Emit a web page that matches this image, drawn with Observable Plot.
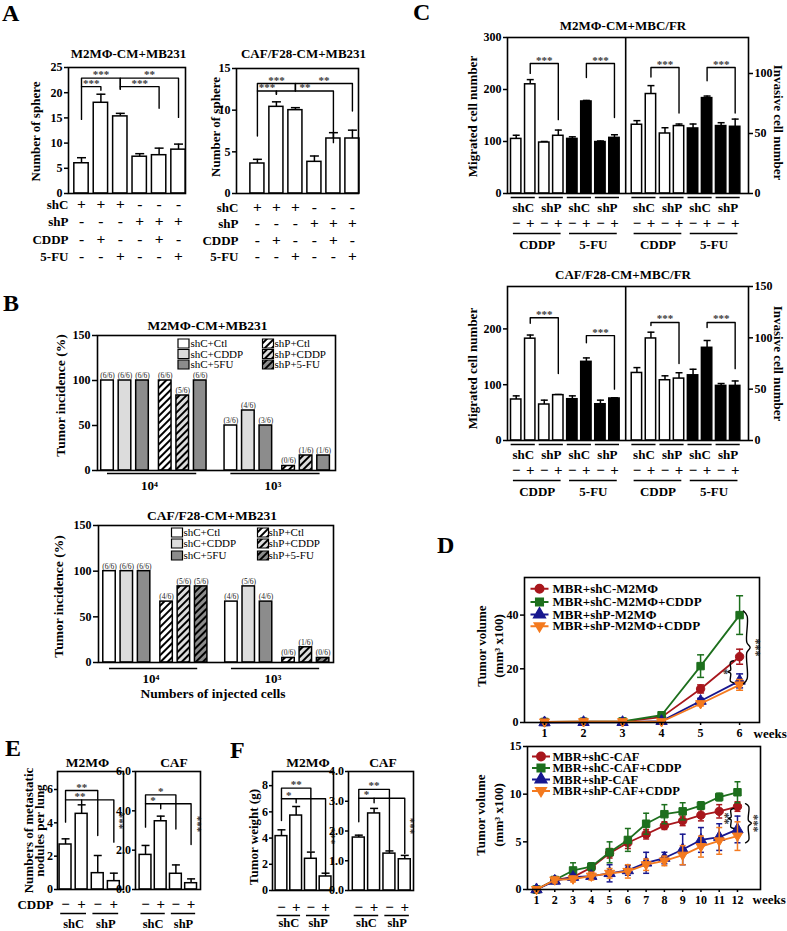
<!DOCTYPE html>
<html>
<head>
<meta charset="utf-8">
<script src="https://cdn.jsdelivr.net/npm/d3@7"></script>
<script src="https://cdn.jsdelivr.net/npm/@observablehq/plot@0.6"></script>
<style>
  html,body{margin:0;padding:0;background:#fff;}
  #root{position:relative;width:787px;height:931px;overflow:hidden;background:#fff;font-family:'Liberation Serif','Times New Roman',Times,serif;}
  .pl{position:absolute;font-weight:bold;font-size:24px;line-height:24px;color:#000;}
</style>
</head>
<body>
<svg width="0" height="0" style="position:absolute;left:0;top:0" aria-hidden="true">
  <defs>
    <pattern id="hatchW" patternUnits="userSpaceOnUse" width="5" height="5" patternTransform="rotate(45)">
      <rect width="5" height="5" fill="#ffffff"/><rect width="2" height="5" fill="#000000"/>
    </pattern>
    <pattern id="hatchL" patternUnits="userSpaceOnUse" width="5" height="5" patternTransform="rotate(45)">
      <rect width="5" height="5" fill="#dcdcdc"/><rect width="2" height="5" fill="#000000"/>
    </pattern>
    <pattern id="hatchG" patternUnits="userSpaceOnUse" width="5" height="5" patternTransform="rotate(45)">
      <rect width="5" height="5" fill="#8c8c8c"/><rect width="2" height="5" fill="#000000"/>
    </pattern>
  </defs>
</svg>
<div id="root">
  <div class="pl" style="left:2px;top:1px">A</div>
  <div class="pl" style="left:3px;top:291px">B</div>
  <div class="pl" style="left:413px;top:0px">C</div>
  <div class="pl" style="left:437px;top:533px">D</div>
  <div class="pl" style="left:5px;top:736px">E</div>
  <div class="pl" style="left:230px;top:738px">F</div>
</div>
<script>
// ================= DATA =================
// ---- Panel A: sphere formation ----
const aRowLabels = ["shC", "shP", "CDDP", "5-FU"];
const aShC  = ["+", "+", "+", "-", "-", "-"];
const aShP  = ["-", "-", "-", "+", "+", "+"];
const aCDDP = ["-", "+", "-", "-", "+", "-"];
const a5FU  = ["-", "-", "+", "-", "-", "+"];
const aM2Sphere    = [6.0, 18.0, 15.3, 7.3, 7.6, 8.7];
const aM2SphereErr = [1.1, 1.7, 0.6, 0.6, 1.4, 1.1];
const aCafSphere    = [3.6, 10.4, 10.0, 3.8, 6.6, 6.6];
const aCafSphereErr = [0.5, 0.6, 0.3, 0.7, 0.7, 1.0];
const aM2Sig = [
  {a: 0, b: 2, h: 22.9, la: 14.7, lb: 20.7, s: "***"},
  {a: 2, b: 5, h: 22.9, la: 20.7, lb: 15.1, s: "**"},
  {a: 0, b: 1, h: 21.2, la: 21.2, lb: 20.5, s: "***"},
  {a: 2, b: 4, h: 21.2, la: 21.2, lb: 16.9, s: "***"}
];
const aCafSig = [
  {a: 0, b: 2, h: 13.2, la: 6.9, lb: 12.3, s: "***"},
  {a: 2, b: 5, h: 13.2, la: 12.3, lb: 9.9, s: "**"},
  {a: 0, b: 1, h: 12.3, la: 12.3, lb: 11.9, s: "***"},
  {a: 1, b: 4, h: 12.3, la: 11.9, lb: 6.1, s: "**"}
];

// ---- Panel B: tumor incidence ----
const bSeries = ["shC+Ctl", "shC+CDDP", "shC+5FU", "shP+Ctl", "shP+CDDP", "shP+5-FU"];
const bGroups = ["10⁴", "10³"];
const bMice = 6;
const bM2Tumors  = [[6, 6, 6, 6, 5, 6], [3, 4, 3, 0, 1, 1]];
const bCafTumors = [[6, 6, 6, 4, 5, 5], [4, 5, 4, 0, 1, 0]];

// ---- Panel C: migration / invasion ----
const cPairLabels = ["shC", "shP", "shC", "shP"];
const cDose = ["−", "+", "−", "+", "−", "+", "−", "+"];
const cDrugs = ["CDDP", "5-FU"];
const cM2Migrated    = [105, 210, 98, 111, 105, 177, 99, 107];
const cM2MigratedErr = [7, 9, 2, 11, 4, 2, 2, 6];
const cM2Invasive    = [57.3, 82.9, 50.0, 56.2, 54.2, 79.5, 56.2, 55.6];
const cM2InvasiveErr = [3.4, 7.0, 4.8, 1.7, 3.7, 1.7, 2.8, 6.4];
const cCafMigrated    = [73.5, 182.5, 64.5, 81.3, 74, 141, 65, 75.3];
const cCafMigratedErr = [6.5, 6.5, 7.8, 1.2, 6, 7, 7.3, 1.2];
const cCafInvasive    = [65.8, 99.4, 58.7, 60.3, 63.5, 90.3, 53.2, 53.2];
const cCafInvasiveErr = [5.2, 6.1, 4.3, 5.7, 5.9, 7.1, 2.3, 4.8];
const cM2SigMig = [{a: 1, b: 3, h: 250, la: 231, lb: 142, s: "***"}, {a: 5, b: 7, h: 250, la: 223, lb: 146, s: "***"}];
const cM2SigInv = [{a: 9, b: 11, h: 105, la: 97, lb: 67, s: "***"}, {a: 13, b: 15, h: 105, la: 94, lb: 67, s: "***"}];
const cCafSigMig = [{a: 1, b: 3, h: 220, la: 210, lb: 120, s: "***"}, {a: 5, b: 7, h: 188, la: 175, lb: 92, s: "***"}];
const cCafSigInv = [{a: 9, b: 11, h: 115, la: 112, lb: 75, s: "***"}, {a: 13, b: 15, h: 115, la: 110, lb: 70, s: "***"}];

// ---- Panel D: tumor growth ----
const dTopWeeks = [1, 2, 3, 4, 5, 6];
const dTopNames = ["MBR+shC-M2MΦ", "MBR+shC-M2MΦ+CDDP", "MBR+shP-M2MΦ", "MBR+shP-M2MΦ+CDDP"];
const dTopShC        = [0.2, 0.3, 0.3, 2.0, 12.5, 24.5];
const dTopShCErr     = [0.1, 0.2, 0.2, 0.4, 1.5, 2.8];
const dTopShCCddp    = [0.2, 0.3, 0.4, 2.7, 21.0, 40.0];
const dTopShCCddpErr = [0.1, 0.2, 0.2, 0.5, 4.2, 7.2];
const dTopShP        = [0.0, 0.1, 0.1, 0.5, 8.0, 15.5];
const dTopShPErr     = [0.05, 0.1, 0.1, 0.2, 1.0, 2.6];
const dTopShPCddp    = [0.2, 0.3, 0.3, 0.3, 7.0, 14.0];
const dTopShPCddpErr = [0.1, 0.1, 0.1, 0.2, 0.8, 2.0];
const dBotWeeks = [1, 2, 3, 4, 5, 6, 7, 8, 9, 10, 11, 12];
const dBotNames = ["MBR+shC-CAF", "MBR+shC-CAF+CDDP", "MBR+shP-CAF", "MBR+shP-CAF+CDDP"];
const dBotShC        = [0, 1.0, 1.3, 2.3, 3.8, 4.9, 5.8, 6.7, 7.2, 7.8, 8.2, 8.7];
const dBotShCErr     = [0, 0.2, 0.3, 0.4, 0.5, 0.6, 0.5, 0.4, 0.5, 0.6, 0.7, 0.5];
const dBotShCCddp    = [0, 1.0, 2.0, 2.4, 3.9, 5.2, 6.9, 7.9, 8.2, 8.8, 9.7, 10.2];
const dBotShCCddpErr = [0, 0.2, 0.8, 0.4, 1.1, 1.2, 1.1, 1.0, 0.9, 0.4, 0.4, 1.1];
const dBotShP        = [0, 0.9, 1.3, 1.4, 1.7, 2.0, 2.8, 3.3, 4.2, 5.2, 5.5, 6.3];
const dBotShPErr     = [0, 0.2, 0.3, 0.3, 0.9, 0.5, 1.1, 0.6, 1.6, 1.3, 1.4, 1.4];
const dBotShPCddp    = [0, 1.0, 1.1, 1.4, 1.7, 1.9, 2.6, 3.0, 3.6, 4.5, 5.1, 5.6];
const dBotShPCddpErr = [0, 0.3, 0.3, 0.4, 0.5, 0.7, 0.6, 0.5, 1.0, 1.1, 1.4, 1.5];
const dTopBrace = [{x: 6.1, top: 41.5, bot: 14.4, w: 0.17, s: "***", lx: 6.42}, {x: 5.84, top: 23, bot: 14.8, w: -0.14, s: "*", lx: 5.6}];
const dBotBrace = [{x: 12.44, top: 9.0, bot: 4.9, w: 0.32, s: "***", lx: 12.88}, {x: 11.8, top: 8.5, bot: 6.4, w: -0.3, s: "**", lx: 11.32}];

// ---- Panels E / F ----
const efDose = ["−", "+", "−", "+"];
const efPairs = ["shC", "shP"];
const eM2Nodules    = [2.7, 4.54, 0.98, 0.5];
const eM2NodulesErr = [0.34, 0.54, 1.06, 0.48];
const eCafNodules    = [1.76, 3.47, 0.8, 0.32];
const eCafNodulesErr = [0.48, 0.26, 0.45, 0.22];
const fM2Weight    = [4.15, 5.72, 2.42, 1.07];
const fM2WeightErr = [0.48, 0.69, 0.51, 0.25];
const fCafWeight    = [1.78, 2.59, 1.24, 1.05];
const fCafWeightErr = [0.08, 0.17, 0.09, 0.13];
const eM2Sig = [{a: 0, b: 2, h: 5.94, la: 4.04, lb: 3.24, s: "**"}, {a: 0, b: 1, h: 5.38, la: 5.38, lb: 5.15, s: "**", lx: 0.9}, {a: 1, b: 3, h: 5.38, la: 5.38, lb: 2.84, s: "***", rot: true}];
const eCafSig = [{a: 0, b: 2, h: 4.81, la: 3.17, lb: 3.08, s: "*"}, {a: 0, b: 1, h: 4.36, la: 4.36, lb: 4.1, s: "*"}, {a: 1, b: 3, h: 4.36, la: 4.36, lb: 2.29, s: "***", rot: true}];
const fM2Sig = [{a: 0, b: 2, h: 7.81, la: 5.34, lb: 3.05, s: "**"}, {a: 0, b: 1, h: 7.0, la: 7.0, lb: 6.7, s: "*"}, {a: 1, b: 3, h: 7.0, la: 7.0, lb: 1.27, s: "***", rot: true}];
const fCafSig = [{a: 0, b: 2, h: 3.40, la: 2.31, lb: 1.35, s: "**"}, {a: 0, b: 1, h: 3.1, la: 3.1, lb: 2.95, s: "*"}, {a: 1, b: 3, h: 3.1, la: 3.1, lb: 1.24, s: "***", rot: true}];

// ================= HELPERS =================
const FONT = "'Liberation Serif','Times New Roman',Times,serif";
const root = document.getElementById("root");
const capSym = {draw(ctx, size) { const r = Math.sqrt(size / Math.PI); ctx.moveTo(-r, 0); ctx.lineTo(r, 0); }};
const rectSym = {draw(ctx) { ctx.rect(-5.5, -4.5, 11, 9); }};
const triDown = {draw(ctx, size) { const r = Math.sqrt(size / Math.PI) * 1.2; ctx.moveTo(-r, -r * 0.6); ctx.lineTo(r, -r * 0.6); ctx.lineTo(0, r * 1.05); ctx.closePath(); }};
const withLine = sym => ({draw(ctx, size) { ctx.moveTo(-9, 0); ctx.lineTo(9, 0); sym.draw(ctx, size); }});
// a text anchored on the frame, centred on its point
const label = (t, o) => Plot.text([t], {textAnchor: "middle", lineAnchor: "middle", text: d => d, ...o});

function chart(box, xDomain, yDomain, marks) {
  const [x0, y0, x1, y1] = box;
  const svg = Plot.plot({
    width: x1 - x0, height: y1 - y0, margin: 0,
    x: {domain: xDomain, axis: null},
    y: {domain: yDomain, axis: null},
    color: {type: "identity"},
    style: {fontFamily: FONT, fontSize: "12px", fontWeight: "bold", background: "transparent", overflow: "visible", color: "black"},
    marks
  });
  svg.style.position = "absolute";
  svg.style.left = x0 + "px";
  svg.style.top = y0 + "px";
  root.append(svg);
  return svg;
}

function bars(xs, vals, errs, {hw = 0.37, fill = () => "white", capR = 4, sw = 1.5} = {}) {
  const d = vals.map((v, i) => ({x: xs[i], v, e: errs[i], f: fill(i)}));
  return [
    Plot.ruleX(d, {x: "x", y1: "v", y2: q => q.v + q.e, stroke: "black", strokeWidth: sw}),
    Plot.dot(d, {x: "x", y: q => q.v + q.e, symbol: capSym, r: capR, stroke: "black", strokeWidth: sw, fill: "none"}),
    Plot.rect(d, {x1: q => q.x - hw, x2: q => q.x + hw, y1: 0, y2: "v", fill: "f", stroke: "black", strokeWidth: sw})
  ];
}

function brackets(list, xpos, yconv = v => v) {
  const pts = list.flatMap((b, k) => [
    {k, x: xpos(b.a), y: yconv(b.la)},
    {k, x: xpos(b.a), y: yconv(b.h)},
    {k, x: xpos(b.b), y: yconv(b.h)},
    {k, x: xpos(b.b), y: yconv(b.lb)}
  ]);
  const flat = list.filter(b => !b.rot), rot = list.filter(b => b.rot);
  return [
    Plot.line(pts, {x: "x", y: "y", z: "k", stroke: "black", strokeWidth: 1.4}),
    Plot.text(flat, {x: b => b.lx ?? (xpos(b.a) + xpos(b.b)) / 2, y: b => yconv(b.h), dy: -3.5, text: "s", fontSize: 11, fill: "#3a3a3a"}),
    Plot.text(rot, {x: b => xpos(b.b), y: b => yconv((b.h + b.lb) / 2), dx: 6, rotate: 90, text: "s", fontSize: 11, fill: "#3a3a3a"})
  ];
}

const frame = () => Plot.frame({stroke: "black", strokeWidth: 1.6});
const yAxis = (ticks, o = {}) => Plot.axisY({ticks, tickSize: 4, tickPadding: 2, label: null, fontSize: 12, strokeWidth: 1.5, ...o});

// ================= PANEL A =================
function sphereChart(box, xDomain, yMax, yTicks, vals, errs, sig, title, o) {
  const xs = vals.map((_, i) => i);
  const rows = [aShC, aShP, aCDDP, a5FU];
  chart(box, xDomain, [0, yMax], [
    ...bars(xs, vals, errs, {hw: 0.37, capR: 4.5}),
    ...brackets(sig, i => i),
    frame(),
    yAxis(yTicks),
    label(title, {frameAnchor: "top", dx: o.tdx, dy: o.tdy, fontSize: 13}),
    label("Number of sphere", {frameAnchor: "left", rotate: -90, dx: o.ldx, dy: o.ldy, fontSize: 13}),
    ...aRowLabels.flatMap((lab, k) => [
      label(lab, {frameAnchor: "bottom-left", dx: o.rdx, dy: o.rowDy[k], textAnchor: "end", fontSize: 13}),
      Plot.text(rows[k], {x: (d, i) => i, y: 0, dy: o.rowDy[k], text: d => d, fontSize: 15.5})
    ])
  ]);
}
sphereChart([68, 67, 185, 193], [-0.67, 5.36], 25, [0, 5, 10, 15, 20, 25], aM2Sphere, aM2SphereErr, aM2Sig, "M2MΦ-CM+MB231",
  {tdx: 1.5, tdy: -14, ldx: -33, ldy: 1, rdx: 0, rowDy: [11, 28, 46, 63]});
sphereChart([236, 68, 358, 193], [-1.1, 5.32], 15, [0, 5, 10, 15], aCafSphere, aCafSphereErr, aCafSig, "CAF/F28-CM+MB231",
  {tdx: 6, tdy: -15, ldx: -21, ldy: -4, rdx: 2, rowDy: [14, 30, 47, 63]});

// ================= PANEL B =================
const bOffsets = [0, 1, 2, 3.3, 4.3, 5.3];
const bGroupBase = [0, 7.05];
function incidenceChart(box, xDomain, counts, fills, legendFills, title, o) {
  const data = counts.flatMap((grp, g) => grp.map((c, s) => ({
    x: bGroupBase[g] + bOffsets[s], pct: c / bMice * 100, lab: `(${c}/${bMice})`, f: fills[s]
  })));
  const groups = bGroups.map((name, g) => ({name, x1: bGroupBase[g], x2: bGroupBase[g] + 5.1, xc: bGroupBase[g] + 2.4}));
  const legend = bSeries.flatMap((name, s) => {
    const col = Math.floor(s / 3), row = s % 3;
    return [
      Plot.dot([name], {frameAnchor: "top-left", dx: o.legSw[col], dy: o.legRow[row], symbol: rectSym, fill: legendFills[s], stroke: "black", strokeWidth: 1.2, r: 5}),
      label(name, {frameAnchor: "top-left", dx: o.legTx[col], dy: o.legRow[row], textAnchor: "start", fontSize: 11, fontWeight: "normal"})
    ];
  });
  const marks = [
    Plot.rect(data, {x1: d => d.x - 0.36, x2: d => d.x + 0.36, y1: 0, y2: d => Math.max(d.pct, 5), fill: "f", stroke: "black", strokeWidth: 1.5}),
    Plot.text(data, {x: "x", y: d => Math.max(d.pct, 5), dy: -5, text: "lab", fontSize: 7.5, fontWeight: "normal", fill: "#222"}),
    frame(),
    yAxis([0, 50, 100, 150], {tickSize: 5}),
    Plot.ruleY(groups, {y: 0, x1: "x1", x2: "x2", dy: o.uDy, stroke: "black", strokeWidth: 1.6}),
    Plot.text(groups, {x: "xc", y: 0, dy: o.gDy, text: "name", fontSize: 13}),
    label(title, {frameAnchor: "top", dx: o.tdx, dy: -10, fontSize: 13.5}),
    label("Tumor incidence (%)", {frameAnchor: "left", rotate: -90, dx: o.ldx, dy: o.ldy, fontSize: 13.5}),
    ...legend
  ];
  if (o.xTitle) marks.push(label(o.xTitle, {frameAnchor: "bottom", dx: -3, dy: 31, fontSize: 13.5}));
  chart(box, xDomain, [0, 150], marks);
}
incidenceChart([97, 335, 335, 470], [-0.571, 13.03], bM2Tumors,
  ["white", "#dcdcdc", "#8c8c8c", "url(#hatchW)", "url(#hatchL)", "#8c8c8c"],
  ["white", "#dcdcdc", "#8c8c8c", "url(#hatchW)", "url(#hatchL)", "url(#hatchG)"],
  "M2MΦ-CM+MB231",
  {legSw: [86, 170.5], legTx: [93, 177], legRow: [8, 18.5, 29], uDy: 3, gDy: 15, tdx: -9, ldx: -37, ldy: -7.5});
incidenceChart([98, 525, 333, 662], [-0.636, 12.95], bCafTumors,
  ["white", "#dcdcdc", "#8c8c8c", "url(#hatchW)", "url(#hatchL)", "url(#hatchG)"],
  ["white", "#dcdcdc", "#8c8c8c", "url(#hatchW)", "url(#hatchL)", "url(#hatchG)"],
  "CAF/F28-CM+MB231",
  {legSw: [78.5, 164.5], legTx: [85, 170], legRow: [7, 18, 30], uDy: 6, gDy: 16, tdx: -4, ldx: -40, ldy: 2.5, xTitle: "Numbers of injected cells"});

// ================= PANEL C =================
function migrationChart(box, yMax, rightMax, leftTicks, rightTicks, migr, migrErr, inv, invErr, sigMig, sigInv, title, o) {
  const k = yMax / rightMax;
  const xs = d3.range(16).map(i => i < 8 ? i : i + 0.6);
  const pairs = d3.range(8).map(p => ({x1: xs[2 * p] - 0.36, x2: xs[2 * p + 1] + 0.36, xc: (xs[2 * p] + xs[2 * p + 1]) / 2, lab: cPairLabels[p % 4]}));
  const quads = d3.range(4).map(q => ({x1: xs[4 * q] - 0.2, x2: xs[4 * q + 3] + 0.2, xc: (xs[4 * q] + xs[4 * q + 3]) / 2, lab: cDrugs[q % 2]}));
  chart(box, [-0.62, 16.55], [0, yMax], [
    ...bars(xs, [...migr, ...inv.map(v => v * k)], [...migrErr, ...invErr.map(e => e * k)], {hw: 0.37, capR: 3.5, fill: i => (i % 8) < 4 ? "white" : "black"}),
    ...brackets(sigMig, i => xs[i]),
    ...brackets(sigInv, i => xs[i], v => v * k),
    Plot.ruleX([(xs[7] + xs[8]) / 2], {stroke: "black", strokeWidth: 1.6}),
    frame(),
    yAxis(leftTicks),
    yAxis(rightTicks.map(v => v * k), {anchor: "right", tickFormat: v => Math.round(v / k)}),
    Plot.ruleY(pairs, {y: 0, x1: "x1", x2: "x2", dy: 4, stroke: "black", strokeWidth: 1.5}),
    Plot.text(pairs, {x: "xc", y: 0, dy: 14, text: "lab", fontSize: 13}),
    Plot.text(xs, {x: d => d, y: 0, dy: 30, text: (d, i) => cDose[i % 8], fontSize: 15}),
    Plot.ruleY(quads, {y: 0, x1: "x1", x2: "x2", dy: 40, stroke: "black", strokeWidth: 1.5}),
    Plot.text(quads, {x: "xc", y: 0, dy: 51, text: "lab", fontSize: 13}),
    label(title, {frameAnchor: "top", dx: -5, dy: -12, fontSize: 13}),
    label("Migrated cell number", {frameAnchor: "left", rotate: -90, dx: -35, dy: o.ldy, fontSize: 13}),
    label("Invasive cell number", {frameAnchor: "right", rotate: 90, dx: 30, dy: o.rdy, fontSize: 13})
  ]);
}
migrationChart([507, 37, 748, 193], 300, 130, [0, 100, 200, 300], [0, 50, 100],
  cM2Migrated, cM2MigratedErr, cM2Invasive, cM2InvasiveErr, cM2SigMig, cM2SigInv, "M2MΦ-CM+MBC/FR", {ldy: 1, rdy: 7});
migrationChart([507, 286, 748, 440], 276, 150, [0, 100, 200], [0, 50, 100, 150],
  cCafMigrated, cCafMigratedErr, cCafInvasive, cCafInvasiveErr, cCafSigMig, cCafSigInv, "CAF/F28-CM+MBC/FR", {ldy: 5, rdy: 0});

// ================= PANEL D =================
const dColors = ["#a8161c", "#1d6f1d", "#17178f", "#f47a1f"];
const dSymbols = [d3.symbolCircle, d3.symbolSquare, d3.symbolTriangle, triDown];
function braceMarks(list) {
  const pts = list.flatMap((b, k) => {
    const m = (b.top + b.bot) / 2, t = (b.top - b.bot) * 0.07;
    return [[b.x, b.top], [b.x + b.w * 0.55, b.top - t], [b.x + b.w * 0.5, m + t], [b.x + b.w, m], [b.x + b.w * 0.5, m - t], [b.x + b.w * 0.55, b.bot + t], [b.x, b.bot]]
      .map(([x, y]) => ({k, x, y}));
  });
  return [
    Plot.line(pts, {x: "x", y: "y", z: "k", curve: "catmull-rom", stroke: "black", strokeWidth: 1.4}),
    Plot.text(list, {x: "lx", y: b => (b.top + b.bot) / 2, rotate: 90, text: "s", fontSize: 12, fill: "#3a3a3a"})
  ];
}
function growthChart(box, xDomain, yMax, yTicks, weeks, names, means, errs, braces, o) {
  const series = names.map((name, k) => ({name, mean: means[k], err: errs[k], color: dColors[k], symbol: dSymbols[k]}));
  const dataMarks = series.flatMap(s => {
    const d = weeks.map((w, i) => ({w, v: s.mean[i], e: s.err[i]}));
    return [
      Plot.ruleX(d, {x: "w", y1: q => q.v - q.e, y2: q => q.v + q.e, stroke: s.color, strokeWidth: 1.5}),
      Plot.dot(d, {x: "w", y: q => q.v + q.e, symbol: capSym, r: o.capR, stroke: s.color, strokeWidth: 1.5, fill: "none"}),
      Plot.dot(d, {x: "w", y: q => q.v - q.e, symbol: capSym, r: o.capR, stroke: s.color, strokeWidth: 1.5, fill: "none"}),
      Plot.line(d, {x: "w", y: "v", stroke: s.color, strokeWidth: 1.8}),
      Plot.dot(d, {x: "w", y: "v", symbol: s.symbol, fill: s.color, stroke: s.color, strokeWidth: 1, r: 4.2})
    ];
  });
  const legend = series.flatMap((s, k) => [
    Plot.dot([s.name], {frameAnchor: "top-left", dx: o.legDx, dy: o.legDy[k], symbol: withLine(s.symbol), fill: s.color, stroke: s.color, strokeWidth: 2, r: 4}),
    label(s.name, {frameAnchor: "top-left", dx: o.legTx, dy: o.legDy[k], textAnchor: "start", fontSize: o.legFont})
  ]);
  chart(box, xDomain, [0, yMax], [
    ...dataMarks,
    ...braceMarks(braces),
    frame(),
    yAxis(yTicks),
    Plot.axisX({ticks: weeks, tickSize: 3, tickPadding: 3, label: null, fontSize: 12, strokeWidth: 1.5, tickFormat: d => d}),
    label("weeks", {frameAnchor: "bottom-right", dx: o.wdx, dy: o.wdy, textAnchor: "start", fontSize: 13}),
    label("Tumor volume\n(mm³ x100)", {frameAnchor: "left", rotate: -90, dx: o.ldx, dy: o.ldy, lineHeight: 1.35, fontSize: 13}),
    ...legend
  ]);
}
growthChart([524, 577, 759, 722], [0.487, 6.51], 54, [0, 20, 40], dTopWeeks, dTopNames,
  [dTopShC, dTopShCCddp, dTopShP, dTopShPCddp], [dTopShCErr, dTopShCCddpErr, dTopShPErr, dTopShPCddpErr], dTopBrace,
  {capR: 3.5, legDx: 15, legTx: 28, legDy: [11.3, 24.5, 37, 48.7], legFont: 13, wdx: -6, wdy: 11, ldx: -35.5, ldy: -4});
growthChart([527, 746, 760, 889], [0.507, 13.26], 15, [0, 5, 10, 15], dBotWeeks, dBotNames,
  [dBotShC, dBotShCCddp, dBotShP, dBotShPCddp], [dBotShCErr, dBotShCCddpErr, dBotShPErr, dBotShPCddpErr], dBotBrace,
  {capR: 3, legDx: 13.5, legTx: 25, legDy: [10, 21.5, 33, 44.5], legFont: 12.5, wdx: -8, wdy: 10, ldx: -39, ldy: -3});

// ================= PANELS E / F =================
function smallChart(box, xDomain, yMax, yTicks, vals, errs, sig, title, o) {
  const xs = vals.map((_, i) => i);
  const pairs = efPairs.map((lab, p) => ({lab, x1: 2 * p - 0.3, x2: 2 * p + 1.3, xc: 2 * p + 0.5}));
  chart(box, xDomain, [0, yMax], [
    ...bars(xs, vals, errs, {hw: o.hw, capR: 4}),
    ...brackets(sig, i => i),
    frame(),
    yAxis(yTicks, {tickSize: 3, tickPadding: 1.5}),
    label(title, {frameAnchor: "top", dx: o.tdx, dy: -9, fontSize: 13.5}),
    Plot.text(efDose, {x: (d, i) => i, y: 0, dy: o.sDy, text: d => d, fontSize: 15}),
    Plot.ruleY(pairs, {y: 0, x1: "x1", x2: "x2", dy: o.oDy, stroke: "black", strokeWidth: 1.5}),
    Plot.text(pairs, {x: "xc", y: 0, dy: o.pDy, text: "lab", fontSize: 12.5}),
    ...(o.extra || [])
  ]);
}
smallChart([57, 771, 123, 889], [-0.5, 3.6], 7.08, [0, 2, 4, 6], eM2Nodules, eM2NodulesErr, eM2Sig, "M2MΦ",
  {hw: 0.37, tdx: -3, sDy: 15, oDy: 24, pDy: 34, extra: [
    label("CDDP", {frameAnchor: "bottom-left", dx: -4, dy: 15, textAnchor: "end", fontSize: 13}),
    label("Numbers of metastatic\nnodules per lung", {frameAnchor: "left", rotate: -90, dx: -22.5, dy: 0, lineHeight: 0.88, fontSize: 13})
  ]});
smallChart([135, 771, 200, 889], [-0.66, 3.62], 6, [0, 2, 4, 6], eCafNodules, eCafNodulesErr, eCafSig, "CAF",
  {hw: 0.39, tdx: 6, sDy: 15, oDy: 24, pDy: 34});
smallChart([272, 771, 333, 890], [-0.61, 3.54], 9.08, [0, 2, 4, 6, 8], fM2Weight, fM2WeightErr, fM2Sig, "M2MΦ",
  {hw: 0.4, tdx: 5, sDy: 17, oDy: 25, pDy: 32, extra: [
    label("Tumor weight (g)", {frameAnchor: "left", rotate: -90, dx: -19, dy: 6, fontSize: 13})
  ]});
smallChart([348, 771, 413, 890], [-0.67, 3.57], 4, [0, 1, 2, 3, 4], fCafWeight, fCafWeightErr, fCafSig, "CAF",
  {hw: 0.39, tdx: 2, sDy: 17, oDy: 25, pDy: 32});
</script>
</body>
</html>
